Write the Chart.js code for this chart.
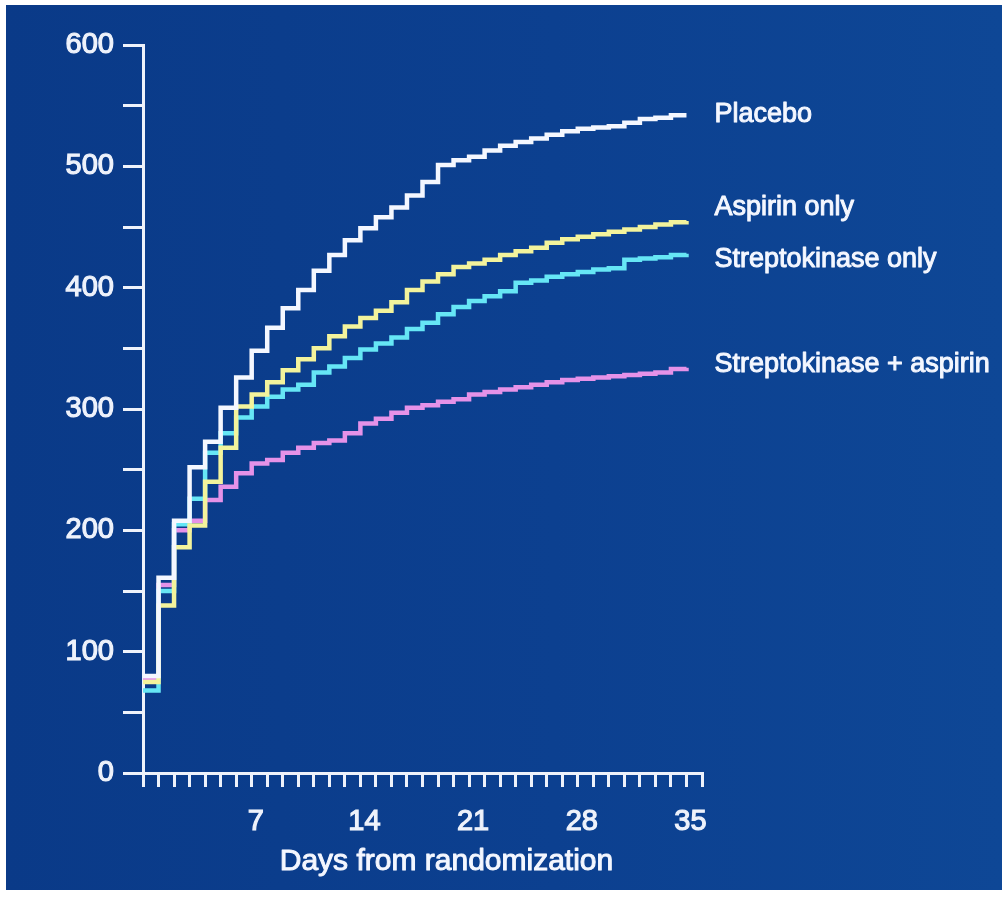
<!DOCTYPE html>
<html>
<head>
<meta charset="utf-8">
<title>Days from randomization</title>
<script src="https://cdn.jsdelivr.net/npm/chart.js@4.4.1/dist/chart.umd.min.js"></script>
<style>
  html, body { margin: 0; padding: 0; background: #ffffff; }
  #panel {
    position: absolute; left: 6px; top: 5px; width: 996px; height: 885px;
    background: linear-gradient(90deg, #0a3a88 0%, #0c4090 55%, #0e4796 100%);
  }
  canvas { display: block; }
</style>
</head>
<body>
<div id="panel"><canvas id="mortality" width="996" height="885"></canvas></div>
<script>
// cumulative events by day since randomization
const days = [0, 1, 2, 3, 4, 5, 6, 7, 8, 9, 10, 11, 12, 13, 14, 15, 16, 17,
    18, 19, 20, 21, 22, 23, 24, 25, 26, 27, 28, 29, 30, 31, 32, 33, 34, 35];

const placebo = [80, 161, 208, 252, 273, 301, 326, 348, 367, 383, 398, 414, 427, 439, 449, 458,
    466, 476, 487, 501, 505, 508, 513, 517, 520, 523, 526, 529, 531, 532, 533, 536, 539, 540, 542, 542];

const aspirinOnly = [75, 138, 186, 204, 240, 268, 302, 312, 322, 332, 341, 350, 360, 368, 375, 381,
    388, 398, 405, 411, 417, 420, 423, 427, 430, 433, 437, 440, 442, 444, 446, 448, 450, 452, 454, 455];

const skOnly = [68, 150, 205, 226, 264, 280, 293, 302, 310, 316, 320, 330, 335, 342, 349, 354,
    359, 366, 371, 378, 384, 389, 393, 397, 404, 406, 409, 411, 413, 415, 416, 423, 424, 425, 427, 428];

const skPlusAspirin = [78, 155, 200, 208, 225, 236, 247, 255, 258, 264, 268, 272, 274, 280, 288, 292,
    297, 301, 303, 306, 308, 312, 314, 316, 318, 320, 322, 324, 325, 326, 327, 328, 329, 330, 333, 334];

const seriesNames = ['Placebo', 'Aspirin only', 'Streptokinase only', 'Streptokinase + aspirin'];
const seriesColors = ['#f4f7ff', '#f3f39c', '#66e6f5', '#e592e8'];

const yTicks = [0, 100, 200, 300, 400, 500, 600];
const xTickLabels = [7, 14, 21, 28, 35];
const xTitle = 'Days from randomization';

const FONT = '"Liberation Sans", Arial, sans-serif';
const AXIS = '#eef2fb';

function toPoints(values) {
    return days.map((d, i) => ({ x: d, y: values[i] }));
}

function heavyText(ctx, text, x, y) {
    ctx.strokeText(text, x, y);
    ctx.fillText(text, x, y);
}

// curve names at the right of each last step, plus the x axis caption
const slideText = {
    id: 'slideText',
    afterDraw(chart, args, opts) {
        const ctx = chart.ctx;
        const area = chart.chartArea;
        ctx.save();
        ctx.fillStyle = opts.color;
        ctx.strokeStyle = opts.color;
        ctx.lineWidth = opts.stroke;
        ctx.lineJoin = 'round';
        ctx.textBaseline = 'middle';

        ctx.font = opts.font;
        ctx.textAlign = 'left';
        chart.data.datasets.forEach((ds, i) => {
            const meta = chart.getDatasetMeta(i);
            const last = meta.data[meta.data.length - 1];
            heavyText(ctx, ds.label, last.x + opts.gap, last.y + opts.shift[i]);
        });

        ctx.font = opts.titleFont;
        ctx.textAlign = 'center';
        heavyText(ctx, xTitle, (area.left + area.right) / 2 + opts.titleDx, area.bottom + opts.titleDy);
        ctx.restore();
    }
};

const datasets = [placebo, aspirinOnly, skOnly, skPlusAspirin].map((values, i) => ({
    label: seriesNames[i],
    data: toPoints(values),
    borderColor: seriesColors[i],
    borderWidth: 4.5,
    stepped: true,
    pointRadius: 0,
    fill: false
}));

new Chart(document.getElementById('mortality').getContext('2d'), {
    type: 'line',
    data: { datasets: datasets },
    plugins: [slideText],
    options: {
        responsive: false,
        animation: false,
        layout: {
            padding: { left: 0, top: 40, right: 300, bottom: 10 }
        },
        scales: {
            x: {
                type: 'linear',
                min: 0,
                max: 36,
                border: { color: AXIS, width: 3 },
                grid: {
                    drawOnChartArea: false,
                    drawTicks: true,
                    tickLength: 14,
                    color: AXIS,
                    lineWidth: 3
                },
                ticks: {
                    stepSize: 1,
                    autoSkip: false,
                    maxRotation: 0,
                    padding: 18,
                    labelOffset: 4,
                    color: AXIS,
                    textStrokeColor: AXIS,
                    textStrokeWidth: 1.2,
                    font: { family: FONT, size: 29 },
                    callback: (v) => xTickLabels.includes(v) ? String(v) : ''
                },
                afterFit: (scale) => { scale.height = 107; }
            },
            y: {
                min: 0,
                max: 600,
                border: { color: AXIS, width: 3 },
                grid: {
                    drawOnChartArea: false,
                    drawTicks: true,
                    tickLength: 20,
                    color: AXIS,
                    lineWidth: 3
                },
                ticks: {
                    stepSize: 50,
                    padding: 9,
                    color: AXIS,
                    textStrokeColor: AXIS,
                    textStrokeWidth: 1.2,
                    font: { family: FONT, size: 29 },
                    callback: (v) => yTicks.includes(v) ? String(v) : ''
                },
                afterFit: (scale) => { scale.width = 137; }
            }
        },
        plugins: {
            legend: { display: false },
            tooltip: { enabled: false },
            slideText: {
                font: '27px ' + FONT,
                titleFont: '30px ' + FONT,
                color: '#f4f7ff',
                stroke: 1,
                gap: 28,
                shift: [-1, -13, 6, -3],
                titleDx: 24,
                titleDy: 89
            }
        }
    }
});
</script>
</body>
</html>
